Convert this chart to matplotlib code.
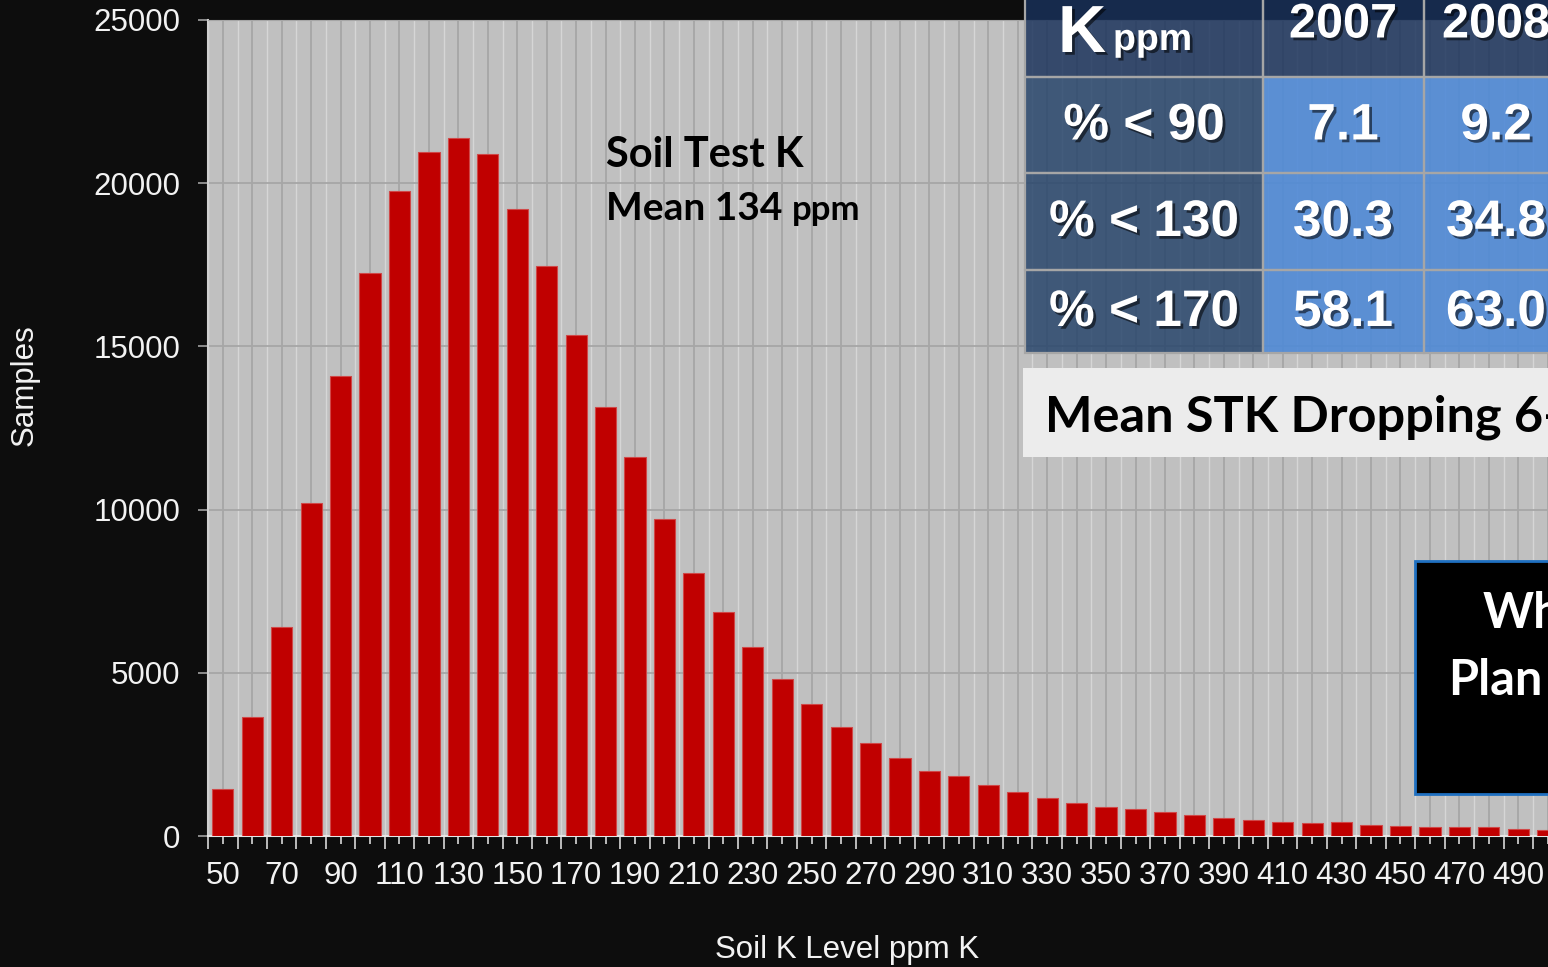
import numpy as np
import matplotlib.pyplot as plt
import matplotlib.patheffects as pe
from matplotlib.patches import Rectangle
from matplotlib.ticker import FixedLocator

# soil K level classes (ppm) and number of samples
k_levels = [50, 60, 70, 80, 90, 100, 110, 120, 130, 140, 150, 160, 170, 180, 190,
            200, 210, 220, 230, 240, 250, 260, 270, 280, 290, 300, 310, 320, 330,
            340, 350, 360, 370, 380, 390, 400, 410, 420, 430, 440, 450, 460, 470,
            480, 490, 500]
samples = [1450, 3650, 6400, 10200, 14100, 17250, 19750, 20950, 21400, 20900,
           19200, 17450, 15350, 13150, 11600, 9700, 8050, 6850, 5800, 4800,
           4050, 3350, 2850, 2400, 2000, 1850, 1550, 1350, 1150, 1000,
           880, 830, 750, 650, 550, 480, 440, 390, 430, 350,
           300, 280, 280, 270, 220, 190]
y_ticks = [0, 5000, 10000, 15000, 20000, 25000]

# table overlay
table_years = ['2007', '2008']
table_rows = ['% < 90', '% < 130', '% < 170']
table_2007 = ['7.1', '30.3', '58.1']
table_2008 = ['9.2', '34.8', '63.0']

W, H = 1548, 967
bg = '#0d0d0d'
white = '#f2f2f2'
arial = 'Liberation Sans'
calibri = 'Lato'

fig = plt.figure(figsize=(W / 100, H / 100), dpi=100, facecolor=bg)
left, right, top, bottom = 208.1, 1548, 20, 836
ax = fig.add_axes([left / W, 1 - bottom / H, (right - left) / W, (bottom - top) / H])
ax.set_facecolor('#c0c0c0')

x = np.arange(len(k_levels))
ax.bar(x, samples, width=0.72, color='#c00000', edgecolor='#d04848', linewidth=0.8, zorder=3)

ax.set_xlim(-0.5, 45.01)
ax.set_ylim(0, 25000)

# major ticks at class centres (labels every other class), minor at class edges
ax.set_xticks(x)
ax.set_xticklabels([str(k) if i % 2 == 0 else '' for i, k in enumerate(k_levels)])
ax.xaxis.set_minor_locator(FixedLocator(np.arange(-0.5, 46, 1)))
ax.tick_params(axis='x', which='major', length=6, width=1.2, color='#d9d9d9', pad=12,
               labelsize=22.5, labelcolor=white)
ax.tick_params(axis='x', which='minor', length=9, width=1.2, color='#d9d9d9')
ax.set_yticks(y_ticks)
ax.tick_params(axis='y', length=7, width=1.2, color='#a0a0a0', pad=13,
               labelsize=22.5, labelcolor=white)
for lab in ax.get_xticklabels() + ax.get_yticklabels():
    lab.set_fontfamily(arial)

ax.grid(axis='x', which='minor', color='#d6d6d6', linewidth=1.0, zorder=0)
ax.grid(axis='x', which='major', color='#a6a6a6', linewidth=1.3, zorder=0)
ax.grid(axis='y', which='major', color='#a6a6a6', linewidth=1.3, zorder=0)
ax.set_axisbelow(True)

ax.spines['right'].set_visible(False)
ax.spines['top'].set_color('#a6a6a6')
ax.spines['left'].set_color('#d0d0d0')
ax.spines['left'].set_linewidth(1.5)
ax.spines['bottom'].set_color('#e6e6e6')
ax.spines['bottom'].set_linewidth(1.5)

fig.text(847 / W, 1 - 950 / H, 'Soil K Level ppm K', color=white, fontsize=22.5,
         family=arial, ha='center', va='center')
fig.text(25 / W, 1 - 385 / H, 'Samples', color=white, fontsize=22.5,
         family=arial, ha='center', va='center', rotation=90)

# overlay in pixel coordinates
ov = fig.add_axes([0, 0, 1, 1])
ov.set_xlim(0, W)
ov.set_ylim(H, 0)
ov.axis('off')
ov.patch.set_alpha(0)

ov.text(606, 167, 'Soil Test K', fontsize=30, fontweight='bold', family=calibri, color='black')
ov.text(606, 220, 'Mean 134', fontsize=28, fontweight='bold', family=calibri, color='black')
ov.text(792, 220, 'ppm', fontsize=25, fontweight='bold', family=calibri, color='black')

shadow = [pe.withSimplePatchShadow(offset=(2, -2), shadow_rgbFace='black', alpha=0.55)]
cols = [1025, 1263, 1424, 1584]
rows = [-20, 77, 173, 270, 353]
grid_c = '#a6a6a6'
for r in range(4):
    for c in range(3):
        if r == 0:
            fc, a = '#19315a', 0.83
        elif c == 0:
            fc, a = '#25436a', 0.83
        else:
            fc, a = '#508ad6', 0.9
        ov.add_patch(Rectangle((cols[c], rows[r]), cols[c + 1] - cols[c], rows[r + 1] - rows[r],
                               facecolor=fc, alpha=a, edgecolor='none', zorder=2))
        ov.add_patch(Rectangle((cols[c], rows[r]), cols[c + 1] - cols[c], rows[r + 1] - rows[r],
                               facecolor='none', edgecolor=grid_c, linewidth=1.6, zorder=3))

ov.text(1058, 52, 'K', fontsize=48, fontweight='bold', family=arial, color='white',
        path_effects=shadow, zorder=4)
ov.text(1113, 50, 'ppm', fontsize=27, fontweight='bold', family=arial, color='white',
        path_effects=shadow, zorder=4)
ov.text(1343, 25, table_years[0], fontsize=35, fontweight='bold', family=arial, color='white',
        ha='center', va='center', path_effects=shadow, zorder=4)
ov.text(1496, 25, table_years[1], fontsize=35, fontweight='bold', family=arial, color='white',
        ha='center', va='center', path_effects=shadow, zorder=4)
for i in range(3):
    yc = (rows[i + 1] + rows[i + 2]) / 2 + 1
    ov.text(1144, yc, table_rows[i], fontsize=37, fontweight='bold', family=arial, color='white',
            ha='center', va='center', path_effects=shadow, zorder=4)
    ov.text(1343, yc, table_2007[i], fontsize=37, fontweight='bold', family=arial, color='white',
            ha='center', va='center', path_effects=shadow, zorder=4)
    ov.text(1496, yc, table_2008[i], fontsize=37, fontweight='bold', family=arial, color='white',
            ha='center', va='center', path_effects=shadow, zorder=4)

ov.add_patch(Rectangle((1023, 368), 600, 89, facecolor='#ececec', edgecolor='none', zorder=2))
ov.text(1045, 432, 'Mean STK Dropping 6-', fontsize=36.3, fontweight='bold', family=calibri,
        color='black', zorder=4)

ov.add_patch(Rectangle((1415, 561), 300, 233, facecolor='black', edgecolor='#1f70c1',
                       linewidth=2, zorder=2))
ov.text(1483, 628, 'Wh', fontsize=35, fontweight='bold', family=calibri, color='white', zorder=4)
ov.text(1448, 695, 'Plan', fontsize=35, fontweight='bold', family=calibri, color='white', zorder=4)

plt.savefig('out.png', dpi=100, facecolor=bg)
plt.close()
